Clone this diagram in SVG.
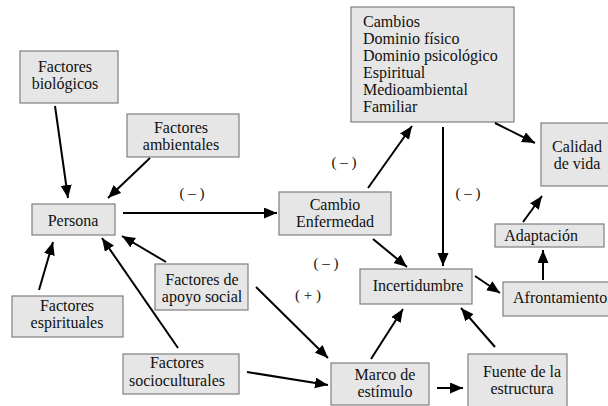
<svg xmlns="http://www.w3.org/2000/svg" width="608" height="406" viewBox="0 0 608 406">
<defs>
<style>
.box{fill:#e6e6e6;stroke:#7f7f7f;stroke-width:1.2}
text{font-family:"Liberation Serif","Times New Roman",serif;font-size:16px;fill:#111}
.c{text-anchor:middle}
.lbl{font-size:15px}
.ar{stroke:#000;stroke-width:2;fill:none;marker-end:url(#ah)}
</style>
<marker id="ah" markerUnits="userSpaceOnUse" markerWidth="14" markerHeight="12" refX="13" refY="5.5" orient="auto">
<path d="M0,0 L13,5.5 L0,11 z" fill="#000"/>
</marker>
</defs>
<rect width="608" height="406" fill="#fff"/>

<g id="biologicos"><rect class="box" x="20" y="51" width="98" height="52"/><text class="c" x="65" y="72">Factores</text><text class="c" x="65" y="89">biológicos</text></g>
<g id="ambientales"><rect class="box" x="127" y="114" width="112" height="43"/><text class="c" x="181" y="133">Factores</text><text class="c" x="181" y="150">ambientales</text></g>
<g id="persona"><rect class="box" x="32" y="204" width="83" height="31"/><text class="c" x="73" y="226">Persona</text></g>
<g id="espirituales"><rect class="box" x="12" y="296" width="111" height="41"/><text class="c" x="67" y="311">Factores</text><text class="c" x="67" y="328">espirituales</text></g>
<g id="apoyo"><rect class="box" x="155" y="264" width="93" height="46"/><text class="c" x="202" y="285">Factores de</text><text class="c" x="202" y="302">apoyo social</text></g>
<g id="socioculturales"><rect class="box" x="123" y="354" width="116" height="40"/><text class="c" x="177" y="368">Factores</text><text class="c" x="177" y="386">socioculturales</text></g>
<g id="cambio"><rect class="box" x="279" y="192" width="112" height="43"/><text class="c" x="335" y="210">Cambio</text><text class="c" x="335" y="227">Enfermedad</text></g>
<g id="cambios"><rect class="box" x="351" y="7" width="163" height="115"/>
<text x="363" y="27">Cambios</text><text x="363" y="44">Dominio físico</text><text x="363" y="61">Dominio psicológico</text><text x="363" y="78">Espiritual</text><text x="363" y="95">Medioambiental</text><text x="363" y="112">Familiar</text></g>
<g id="calidad"><rect class="box" x="541" y="123" width="72" height="63"/><text class="c" x="577" y="152">Calidad</text><text class="c" x="577" y="169">de vida</text></g>
<g id="adaptacion"><rect class="box" x="495" y="224" width="109" height="23"/><text class="c" x="541" y="241">Adaptación</text></g>
<g id="afrontamiento"><rect class="box" x="503" y="282" width="112" height="34"/><text x="513" y="303">Afrontamiento</text></g>
<g id="incertidumbre"><rect class="box" x="360" y="269" width="112" height="35"/><text class="c" x="418" y="291">Incertidumbre</text></g>
<g id="marco"><rect class="box" x="331" y="363" width="98" height="42"/><text class="c" x="385" y="380">Marco de</text><text class="c" x="385" y="397">estímulo</text></g>
<g id="fuente"><rect class="box" x="468" y="354" width="99" height="56"/><text class="c" x="522" y="377">Fuente de la</text><text class="c" x="522" y="394">estructura</text></g>

<g id="labels">
<text class="c lbl" x="192" y="198">( – )</text>
<text class="c lbl" x="344" y="167">( – )</text>
<text class="c lbl" x="468" y="198">( – )</text>
<text class="c lbl" x="326" y="268">( – )</text>
<text class="c lbl" x="308" y="300">( + )</text>
</g>

<g id="connectors">
<line class="ar" x1="55" y1="106" x2="68" y2="198"/>
<line class="ar" x1="150" y1="158" x2="108" y2="198"/>
<line class="ar" x1="123" y1="213" x2="277" y2="213"/>
<line class="ar" x1="39" y1="290" x2="53" y2="242"/>
<line class="ar" x1="166" y1="262" x2="122" y2="236"/>
<line class="ar" x1="178" y1="348" x2="102" y2="238"/>
<line class="ar" x1="256" y1="287" x2="328" y2="358"/>
<line class="ar" x1="247" y1="372" x2="328" y2="385"/>
<line class="ar" x1="368" y1="188" x2="412" y2="126"/>
<line class="ar" x1="443" y1="127" x2="443" y2="266"/>
<line class="ar" x1="495" y1="123" x2="535" y2="143"/>
<line class="ar" x1="373" y1="239" x2="407" y2="267"/>
<line class="ar" x1="475" y1="276" x2="500" y2="293"/>
<line class="ar" x1="543" y1="280" x2="543" y2="250"/>
<line class="ar" x1="523" y1="222" x2="542" y2="196"/>
<line class="ar" x1="371" y1="359" x2="403" y2="309"/>
<line class="ar" x1="495" y1="347" x2="461" y2="308"/>
<line class="ar" x1="437" y1="388" x2="463" y2="388"/>
</g>
</svg>
